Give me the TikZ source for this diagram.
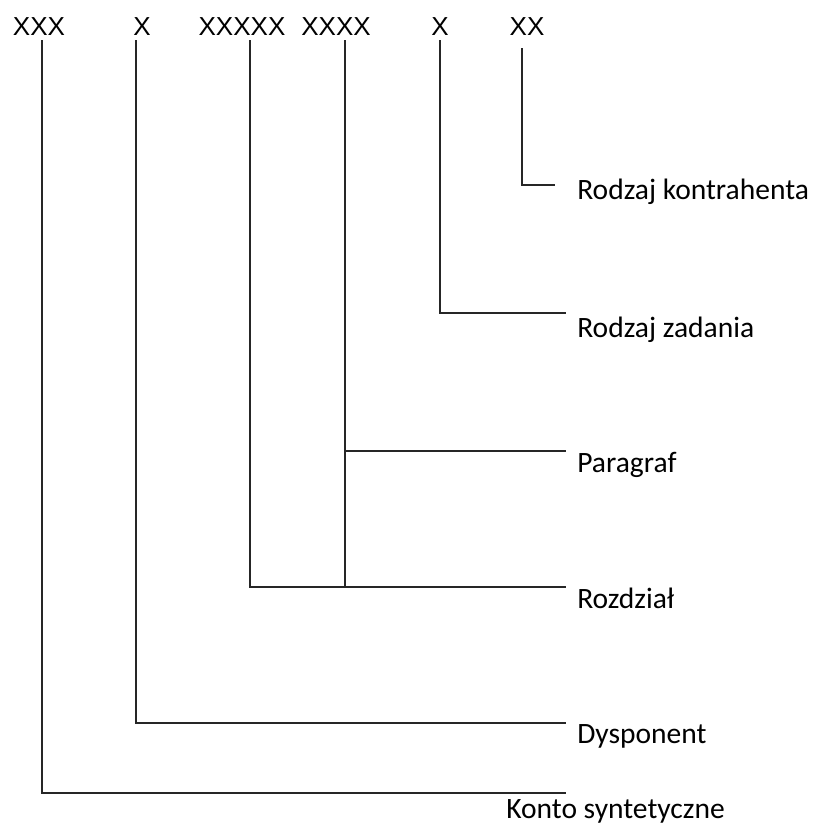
\documentclass[tikz,border=0pt]{standalone}
\usepackage{fontspec}
\setmainfont{Carlito}
\newfontfamily\codefont{Liberation Sans}

\begin{document}
\begin{tikzpicture}[x=0.025cm, y=-0.025cm,
      code/.style={font=\codefont\fontsize{18.5}{22}\selectfont, inner sep=3pt},
      desc/.style={font=\fontsize{21}{25}\selectfont, anchor=base west, inner sep=0pt},
      link/.style={line width=0.9pt, black!85}
    ]
      \useasboundingbox (0,0) rectangle (816,827);

      % parts of the account number
      \node[code] (konto) at (39,27) {XXX};
      \node[code] (dysp) at (142,27) {X};
      \node[code] (rozdz) at (242,27) {XXXXX};
      \node[code] (par) at (336,27) {XXXX};
      \node[code] (zad) at (440,27) {X};
      \node[code] (kontr) at (527,27) {XX};

      % line ends
      \coordinate (kontr-e) at (555,185);
      \coordinate (zad-e) at (566,313);
      \coordinate (par-e) at (566,451);
      \coordinate (rozdz-e) at (566,587);
      \coordinate (dysp-e) at (566,723);
      \coordinate (konto-e) at (566,793);

      \node[desc] (kontr-l) at (577,199) {Rodzaj kontrahenta};
      \node[desc] (zad-l) at (577,337) {Rodzaj zadania};
      \node[desc] (par-l) at (577,472) {Paragraf};
      \node[desc] (rozdz-l) at (577,608) {Rozdział};
      \node[desc] (dysp-l) at (577,743) {Dysponent};
      \node[desc] (konto-l) at (506,818) {Konto syntetyczne};

      \coordinate (par-top) at ([xshift=0.225cm]par.south);

      \draw[link] ([xshift=0.075cm]konto.south) |- (konto-e);
      \draw[link] ([xshift=-0.15cm]dysp.south) |- (dysp-e);
      \draw[link] ([xshift=0.2cm]rozdz.south) |- (rozdz-e);
      \draw[link] (par-top) -- (par-top |- rozdz-e);
      \draw[link] (par-top) |- (par-e);
      \draw[link] (zad.south) |- (zad-e);
      \draw[link] ([xshift=-0.125cm,yshift=-0.2cm]kontr.south) |- (kontr-e);
    \end{tikzpicture}
\end{document}
